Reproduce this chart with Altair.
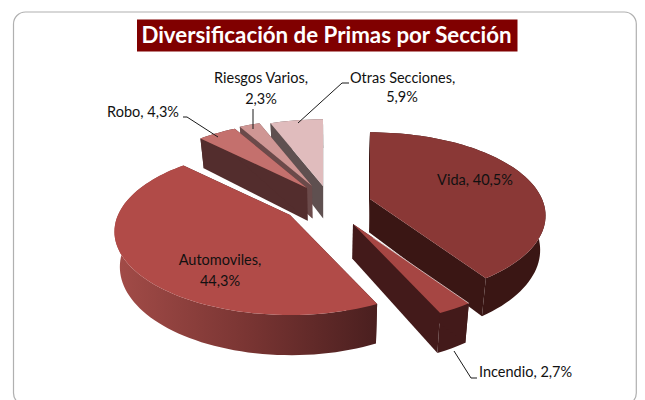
import math
import altair as alt

categories = ["Vida", "Incendio", "Automoviles", "Robo", "Riesgos Varios", "Otras Secciones"]
shares = [40.5, 2.7, 44.3, 4.3, 2.3, 5.9]

# layout (page pixels)
OFF = 8
W, H = 629, 392
APEX = {"Vida": (370, 199), "Incendio": (353, 224), "Automoviles": (290, 215),
        "Robo": (307, 188), "Riesgos Varios": (312, 186), "Otras Secciones": (323, 186)}
TOP = {"Vida": "#8a3836", "Incendio": "#a64643", "Automoviles": "#b14b48",
       "Robo": "#c4706d", "Riesgos Varios": "#cf9694", "Otras Secciones": "#e0bcbd"}
SIDE = {"Vida": "#3a1614", "Incendio": "#431a1a", "Automoviles": "#4a1f1f",
        "Robo": "#532d2d", "Riesgos Varios": "#6b4a4a", "Otras Secciones": "#5f5050"}
SX, SY, P = 172, 80, 0.2
PAINT = ["Automoviles", "Otras Secciones", "Riesgos Varios", "Robo", "Vida", "Incendio"]


def rim(apex, deg):
    t = math.radians(deg)
    u, v = math.sin(t), math.cos(t)
    d = 1 + P * v
    return (apex[0] + SX * u / d, apex[1] - SY * v / d)


def down(p):
    return (330 + (p[0] - 330) * 0.975, p[1] * 1.059 + 21.6)


def feature(pts, fill):
    ring = [[x - OFF, -(y - OFF)] for x, y in pts]
    ring.append(ring[0])
    return {"type": "Feature", "properties": {"fill": fill},
            "geometry": {"type": "Polygon", "coordinates": [ring]}}


def line(pts):
    return {"type": "Feature", "properties": {},
            "geometry": {"type": "LineString",
                         "coordinates": [[x - OFF, -(y - OFF)] for x, y in pts]}}


total = sum(shares)
start = {}
a = 0.0
for c, s in zip(categories, shares):
    start[c] = (a, a + s / total * 360)
    a += s / total * 360

PROJ = alt.Projection(type="identity", reflectY=True, scale=1, translate=[0, 0])


def geo(feats, **mark):
    return alt.Chart(alt.Data(values=feats)).mark_geoshape(**mark).project(**PROJ.to_dict())


def faces(feats):
    return geo(feats, strokeWidth=0).encode(fill=alt.Fill("properties.fill:N", scale=None))


layers = []

# frame
frame = alt.Chart(alt.Data(values=[{"a": 1}])).mark_rect(
    fill="white", stroke="#b0b0b0", strokeWidth=1.2, cornerRadius=12
).encode(x=alt.value(13.5 - OFF), x2=alt.value(636.3 - OFF),
         y=alt.value(12 - OFF), y2=alt.value(405 - OFF))
layers.append(frame)

for c in PAINT:
    ap = APEX[c]
    a0, a1 = start[c]
    steps = max(4, int((a1 - a0) / 2))
    arc = [rim(ap, a0 + (a1 - a0) * i / steps) for i in range(steps + 1)]
    wall = arc + [down(p) for p in reversed(arc)]
    side1 = [ap, arc[0], down(arc[0]), down(ap)]
    side2 = [ap, arc[-1], down(arc[-1]), down(ap)]
    if c == "Automoviles":
        layers.append(faces([feature(side1, SIDE[c]), feature(side2, SIDE[c])]))
        layers.append(geo([feature(wall, "x")], strokeWidth=0, fill=alt.Gradient(
            gradient="linear", x1=0, y1=0, x2=1, y2=0,
            stops=[alt.GradientStop(offset=0, color="#a34c48"),
                   alt.GradientStop(offset=0.5, color="#7a3533"),
                   alt.GradientStop(offset=1, color="#4a1f1f")])))
    else:
        layers.append(faces([feature(wall, SIDE[c]), feature(side1, SIDE[c]), feature(side2, SIDE[c])]))
    layers.append(faces([feature([ap] + arc, TOP[c])]))

# thin highlight between Vida and Incendio
ip = APEX["Incendio"]
ie = rim(ip, start["Incendio"][0])
layers.append(geo([line([(ip[0] + (ie[0] - ip[0]) * 0.17, ip[1] + (ie[1] - ip[1]) * 0.17), ie])],
                  filled=False, stroke="#e2d2d2", strokeWidth=0.8))

# leader lines
leaders = [
    [(183, 117), (187, 117), (218, 137)],
    [(253, 109), (253, 129)],
    [(349, 83), (342, 83), (298, 123)],
    [(454, 351), (471, 378), (477, 378)],
]
layers.append(geo([line(p) for p in leaders], filled=False, stroke="#1a1a1a", strokeWidth=1))


def pct(c):
    return f"{shares[categories.index(c)]:.1f}".replace(".", ",") + "%"


# title
layers.append(alt.Chart(alt.Data(values=[{"a": 1}])).mark_rect(fill="#800000").encode(
    x=alt.value(137 - OFF), x2=alt.value(517.5 - OFF), y=alt.value(19.5 - OFF), y2=alt.value(51.5 - OFF)))
layers.append(alt.Chart(alt.Data(values=[{"t": "Diversificación de Primas por Sección"}])).mark_text(
    font="Lato", fontSize=22.3, fontWeight="bold", color="white", align="center", baseline="middle"
).encode(text="t:N", x=alt.value(326.5 - OFF), y=alt.value(35.5 - OFF)))

# labels
labels = [
    ("Vida, " + pct("Vida"), 475, 181, "center"),
    ("Automoviles,", 220, 261, "center"),
    (pct("Automoviles"), 220, 282, "center"),
    ("Robo, " + pct("Robo"), 143, 113, "center"),
    ("Riesgos Varios,", 261, 79, "center"),
    (pct("Riesgos Varios"), 261, 100, "center"),
    ("Otras Secciones,", 350, 79, "left"),
    (pct("Otras Secciones"), 402, 98, "center"),
    ("Incendio, " + pct("Incendio"), 479, 373, "left"),
]
for t, x, y, al in labels:
    layers.append(alt.Chart(alt.Data(values=[{"t": t}])).mark_text(
        font="Lato", fontSize=14.5, color="#111111", align=al, baseline="middle"
    ).encode(text="t:N", x=alt.value(x - OFF), y=alt.value(y - OFF)))

chart = alt.layer(*layers).properties(
    width=W, height=H, padding=0, autosize=alt.AutoSizeParams(type="none"), background="white"
).configure_view(stroke=None)

chart.save("out.html", embed_options={"renderer": "svg", "actions": False})
